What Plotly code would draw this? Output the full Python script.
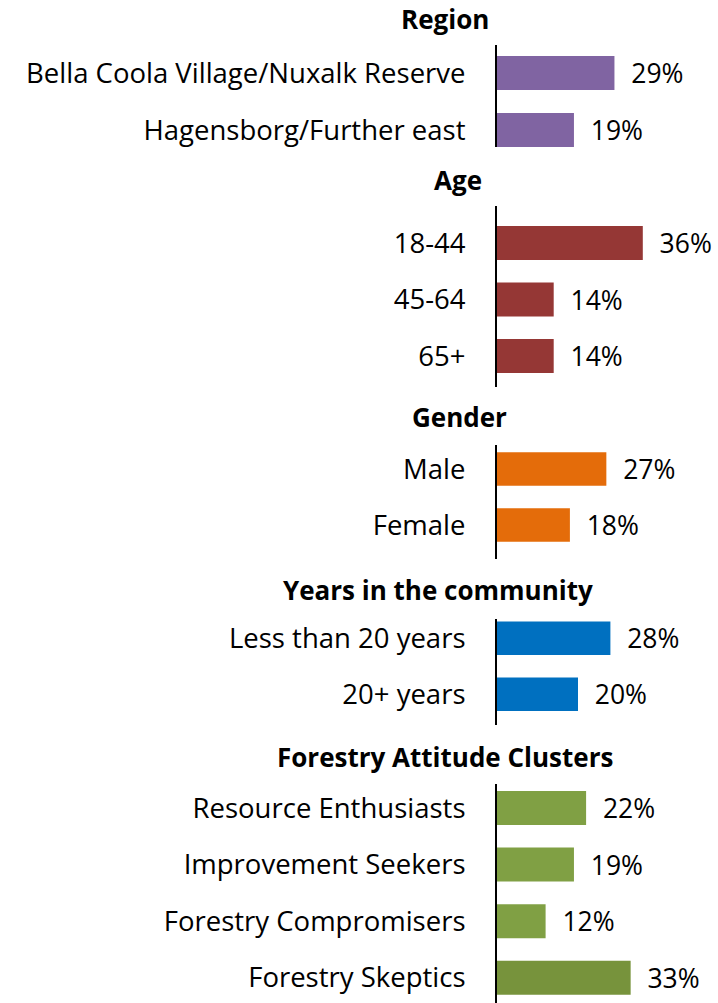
import plotly.graph_objects as go

sections = ["Region", "Age", "Gender", "Years in the community", "Forestry Attitude Clusters"]

region_labels = ["Bella Coola Village/Nuxalk Reserve", "Hagensborg/Further east"]
region_values = [29, 19]

age_labels = ["18-44", "45-64", "65+"]
age_values = [36, 14, 14]

gender_labels = ["Male", "Female"]
gender_values = [27, 18]

years_labels = ["Less than 20 years", "20+ years"]
years_values = [28, 20]

cluster_labels = ["Resource Enthusiasts", "Improvement Seekers", "Forestry Compromisers", "Forestry Skeptics"]
cluster_values = [22, 19, 12, 33]

W, H = 718, 1003
FONT = "Open Sans"
FS = 27.5      # category labels
VFS = 26.5     # value labels
HFS = 26       # section headings

groups = [
    (region_labels, region_values, ["#8064A2"] * 2),
    (age_labels, age_values, ["#953735"] * 3),
    (gender_labels, gender_values, ["#E46C0A"] * 2),
    (years_labels, years_values, ["#0070C0"] * 2),
    (cluster_labels, cluster_values, ["#80A044", "#80A044", "#80A044", "#77933C"]),
]

# pixel layout: (axis top, axis bottom, first bar center, row pitch, heading center y, heading center x)
layout_px = [
    (45, 147, 73, 57, 19, 445.5),
    (206, 387, 243, 56.5, 180, 458),
    (445, 559, 469, 56, 417, 459),
    (619, 725, 638.3, 56, 590, 438),
    (784, 1003, 808, 56.6, 757, 445.5),
]

x_left_px = 497
px_per_pct = 4.05


def py(p):
    return 1 - p / H


def px(p):
    return p / W


fig = go.Figure()
layout_updates = {}
annotations = []
for i, ((labels, values, colors), (top, bot, c0, pitch, hy, hx)) in enumerate(zip(groups, layout_px)):
    yname = "y" if i == 0 else f"y{i+1}"
    ykey = "yaxis" if i == 0 else f"yaxis{i+1}"
    fig.add_trace(go.Bar(
        x=values, y=labels, orientation="h", xaxis="x", yaxis=yname,
        marker=dict(color=colors, line=dict(width=0)),
        width=0.6,
        text=values,
        texttemplate="\u00a0\u00a0%{x}%",
        textposition="outside",
        constraintext="none",
        cliponaxis=False,
        textfont=dict(family=FONT, size=VFS, color="black"),
        hoverinfo="skip",
        showlegend=False,
    ))
    n = len(labels)
    r_top = -(c0 - top) / pitch
    r_bot = (n - 1) + (bot - (c0 + (n - 1) * pitch)) / pitch
    layout_updates[ykey] = dict(
        domain=[max(0, py(bot)), py(top)],
        anchor="x",
        type="category",
        range=[r_bot, r_top],
        showline=True, linecolor="black", linewidth=2,
        showgrid=False, zeroline=False,
        ticks="", ticklabelstandoff=24,
        tickfont=dict(family=FONT, size=FS, color="black"),
    )
    annotations.append(dict(
        text=f"<b>{sections[i]}</b>", xref="paper", yref="paper",
        x=px(hx), y=py(hy), xanchor="center", yanchor="middle",
        showarrow=False, borderpad=0,
        font=dict(family=FONT, size=HFS, color="black"),
    ))

fig.update_layout(
    width=W, height=H,
    margin=dict(l=0, r=0, t=0, b=0),
    paper_bgcolor="white", plot_bgcolor="white",
    xaxis=dict(domain=[px(x_left_px), 1], range=[0, (W - x_left_px) / px_per_pct],
               visible=False, fixedrange=True),
    annotations=annotations,
    **layout_updates,
)

fig.write_html(
    "out.html",
    config={"displayModeBar": False, "staticPlot": True},
    post_script="document.body.style.margin='0';document.body.style.overflow='hidden';",
)
